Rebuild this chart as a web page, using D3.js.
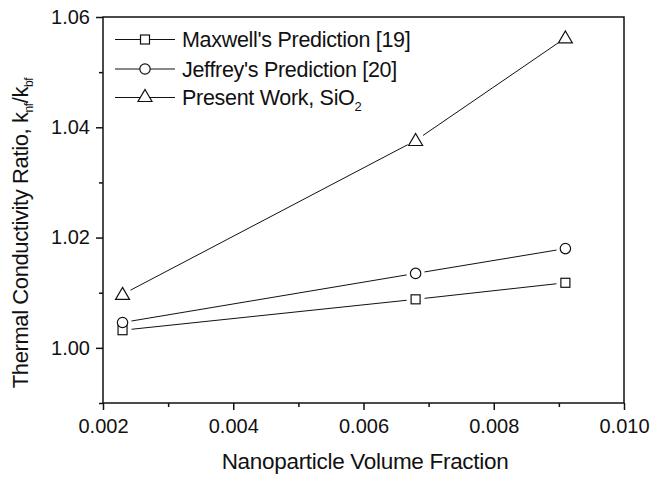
<!DOCTYPE html>
<html><head><meta charset="utf-8">
<script src="https://cdn.jsdelivr.net/npm/d3@7"></script>
<style>
html,body{margin:0;padding:0;background:#fff;}
svg{display:block;font-family:"Liberation Sans",Arial,sans-serif;}
</style></head>
<body>
<svg id="chart" width="652" height="477"></svg>
<script>
const xValues = [0.0023, 0.0068, 0.0091];
const maxwell = [1.0032, 1.0088, 1.0118];
const jeffrey = [1.0046, 1.0135, 1.0180];
const present = [1.0097, 1.0376, 1.0562];
const seriesNames = ["Maxwell's Prediction [19]", "Jeffrey's Prediction [20]", "Present Work, SiO"];
const seriesMarkers = ["square", "circle", "triangle"];
const xTicks = [0.002, 0.004, 0.006, 0.008, 0.010];
const xMinorTicks = [0.003, 0.005, 0.007, 0.009];
const yTicks = [1.00, 1.02, 1.04, 1.06];
const yMinorTicks = [0.99, 1.01, 1.03, 1.05];

const svg = d3.select("#chart");
const L = 103, R = 624, T = 17, B = 403;
const x = d3.scaleLinear().domain([0.002, 0.010]).range([L, R]);
const y = d3.scaleLinear().domain([0.99, 1.06]).range([B, T]);
const ink = "#111";

// frame
svg.append("rect").attr("x", L).attr("y", T).attr("width", R - L).attr("height", B - T)
  .attr("fill", "none").attr("stroke", ink).attr("stroke-width", 1.5);

// axes
const xAxis = svg.append("g").attr("transform", `translate(0,${B})`)
  .call(d3.axisBottom(x).tickValues(xTicks).tickFormat(d3.format(".3f")).tickSize(7).tickPadding(5));
const xMinor = svg.append("g").attr("transform", `translate(0,${B})`)
  .call(d3.axisBottom(x).tickValues(xMinorTicks).tickFormat("").tickSize(4));
const yAxis = svg.append("g").attr("transform", `translate(${L},0)`)
  .call(d3.axisLeft(y).tickValues(yTicks).tickFormat(d3.format(".2f")).tickSize(7).tickPadding(6));
const yMinor = svg.append("g").attr("transform", `translate(${L},0)`)
  .call(d3.axisLeft(y).tickValues(yMinorTicks).tickFormat("").tickSize(4));
[xAxis, xMinor, yAxis, yMinor].forEach(g => {
  g.select(".domain").remove();
  g.selectAll("line").attr("stroke", ink).attr("stroke-width", 1.5);
  g.selectAll("text").attr("fill", ink).attr("font-size", 20)
    .attr("font-family", "'Liberation Sans',Arial,sans-serif");
});
xAxis.selectAll("text").attr("dy", "0.9em");

// axis titles
svg.append("text").attr("x", 365).attr("y", 469).attr("text-anchor", "middle")
  .attr("font-size", 22.5).attr("letter-spacing", -0.3).attr("fill", ink)
  .text("Nanoparticle Volume Fraction");
const yt = svg.append("text").attr("transform", "translate(28,233) rotate(-90)")
  .attr("text-anchor", "middle").attr("font-size", 22).attr("letter-spacing", -0.4).attr("fill", ink);
yt.append("tspan").text("Thermal Conductivity Ratio, k");
yt.append("tspan").attr("font-size", 12).attr("dy", 5).text("nf");
yt.append("tspan").attr("dy", -5).text("/k");
yt.append("tspan").attr("font-size", 12).attr("dy", 5).text("bf");

// marker drawing
function marker(g, type, cx, cy) {
  const common = s => s.attr("fill", "#fff").attr("stroke", ink).attr("stroke-width", 1.2);
  if (type === "square") common(g.append("rect").attr("x", cx - 4.5).attr("y", cy - 4.5).attr("width", 9).attr("height", 9));
  else if (type === "circle") common(g.append("circle").attr("cx", cx).attr("cy", cy).attr("r", 5.2));
  else common(g.append("path").attr("d", `M${cx},${cy - 7}L${cx + 7},${cy + 5}L${cx - 7},${cy + 5}Z`));
}

const allSeries = [maxwell, jeffrey, present];
const gap = 9;
allSeries.forEach((vals, si) => {
  const g = svg.append("g");
  const pts = xValues.map((xv, i) => [x(xv), y(vals[i])]);
  for (let i = 0; i < pts.length - 1; i++) {
    const [x0, y0] = pts[i], [x1, y1] = pts[i + 1];
    const len = Math.hypot(x1 - x0, y1 - y0);
    const ux = (x1 - x0) / len, uy = (y1 - y0) / len;
    g.append("line").attr("x1", x0 + ux * gap).attr("y1", y0 + uy * gap)
      .attr("x2", x1 - ux * gap).attr("y2", y1 - uy * gap)
      .attr("stroke", ink).attr("stroke-width", 1);
  }
  pts.forEach(p => marker(g, seriesMarkers[si], p[0], p[1]));
});

// legend
const legRows = [39.5, 69, 97.5];
seriesNames.forEach((name, i) => {
  const ly = legRows[i];
  const g = svg.append("g");
  g.append("line").attr("x1", 115).attr("x2", 175).attr("y1", ly).attr("y2", ly)
    .attr("stroke", ink).attr("stroke-width", 1);
  marker(g, seriesMarkers[i], 145, i === 2 ? ly - 1 : ly);
  const t = g.append("text").attr("x", 182).attr("y", ly + 7.5).attr("font-size", 21.5)
    .attr("letter-spacing", -0.3).attr("fill", ink).text(name);
  if (i === 2) t.append("tspan").attr("font-size", 13).attr("dy", 6).text("2");
});
</script>
</body></html>
